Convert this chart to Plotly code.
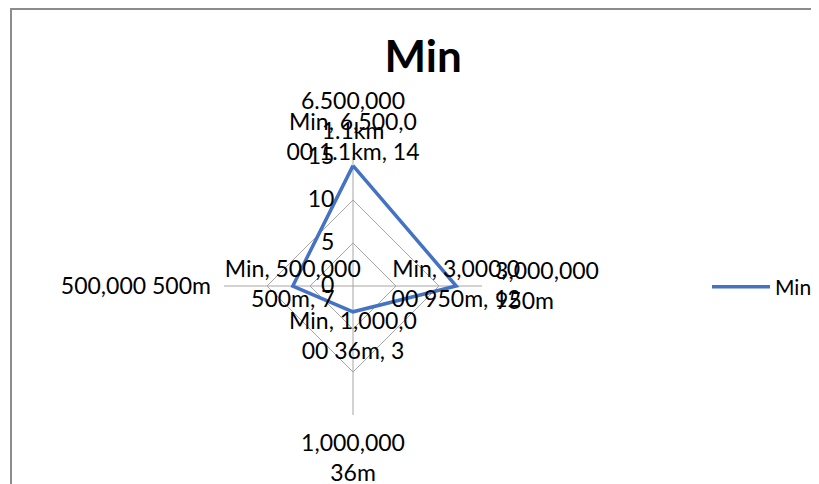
import plotly.graph_objects as go

categories = ["6.500,000<br>1.1km", "3,000,000<br>950m", "1,000,000<br>36m", "500,000 500m"]
values = [14, 12, 3, 7]
label_text = ["Min, 6,500,0<br>00 1.1km, 14", "Min, 3,000,0<br>00 950m, 12",
              "Min, 1,000,0<br>00 36m, 3", "Min, 500,000<br>500m, 7"]
radial_ticks = [0, 5, 10, 15]
series_name = "Min"

FONT = "Lato, Open Sans, sans-serif"
FS = 23
GRID = "#a6a6a6"

fig = go.Figure()
fig.add_trace(go.Scatterpolar(
    r=values + [values[0]],
    theta=categories + [categories[0]],
    mode="lines",
    line=dict(color="#4472C4", width=3.5),
    name=series_name,
    hoverinfo="skip",
))
fig.add_trace(go.Scatterpolar(
    r=values,
    theta=categories,
    mode="text",
    text=label_text,
    textposition=["top center", "middle center", "bottom center", "middle center"],
    textfont=dict(family=FONT, size=FS, color="#000000"),
    showlegend=False,
    hoverinfo="skip",
))

fig.update_layout(
    width=819, height=484,
    margin=dict(l=0, r=0, t=0, b=0),
    paper_bgcolor="white",
    font=dict(family=FONT, size=FS, color="#000000"),
    title=dict(text="<b>Min</b>", x=0.507, xanchor="center", y=1 - 49 / 484, yanchor="middle",
               font=dict(family=FONT, size=44, color="#000000")),
    polar=dict(
        domain=dict(x=[216 / 819, 474 / 819], y=[1 - 407 / 484, 1 - 149 / 484]),
        gridshape="linear",
        bgcolor="white",
        angularaxis=dict(
            direction="clockwise", rotation=90,
            categoryorder="array", categoryarray=categories,
            showline=False, gridcolor=GRID, gridwidth=1,
            ticks="outside", ticklen=8, tickcolor="rgba(0,0,0,0)",
            tickfont=dict(family=FONT, size=FS, color="#000000"),
        ),
        radialaxis=dict(
            range=[0, 15], tickvals=radial_ticks, angle=90, tickangle=90,
            showline=False, gridcolor=GRID, gridwidth=1,
            ticks="outside", ticklen=10, tickcolor="rgba(0,0,0,0)",
            tickfont=dict(family=FONT, size=FS, color="#000000"),
            side="counterclockwise",
        ),
    ),
    legend=dict(x=699 / 819, y=1 - 279 / 484, xanchor="left", yanchor="middle",
                itemwidth=58, borderwidth=0,
                font=dict(family=FONT, size=21, color="#000000"),
                bgcolor="rgba(0,0,0,0)"),
    shapes=[dict(type="rect", xref="paper", yref="paper",
                 x0=3 / 819, x1=1.02, y0=-0.02, y1=1 - 1 / 484,
                 line=dict(color="#8c8c8c", width=2))],
)

fig.write_html("out.html")
